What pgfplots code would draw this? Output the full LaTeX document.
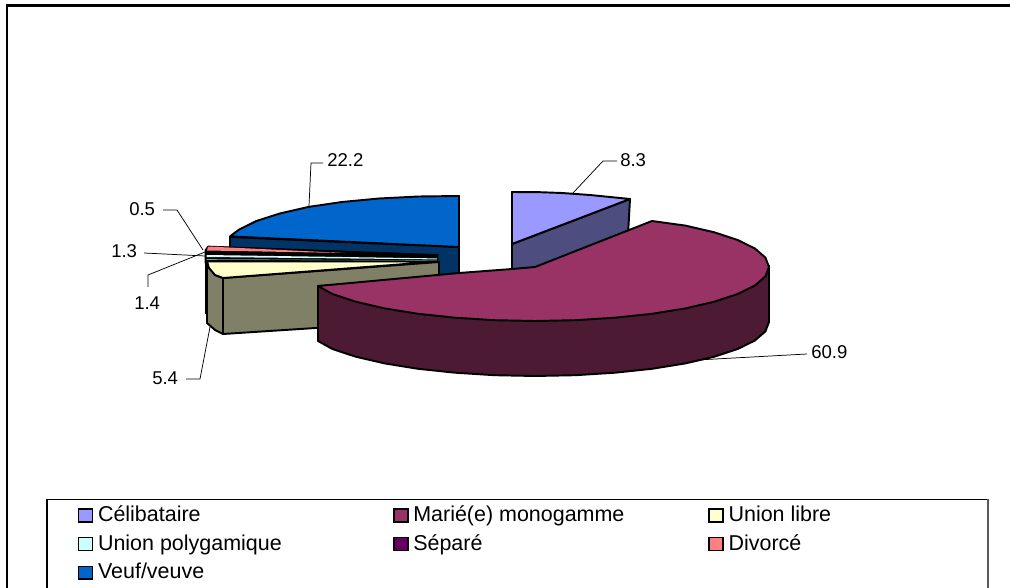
\documentclass[border=0pt]{standalone}
\usepackage{fontspec}
\setmainfont{Liberation Sans}
\usepackage{pgfplots}
\pgfplotsset{compat=1.18}
\definecolor{celib}{HTML}{9999FF}
\definecolor{celibS}{HTML}{4D4D80}
\definecolor{marie}{HTML}{993366}
\definecolor{marieS}{HTML}{4D1A33}
\definecolor{libre}{HTML}{FFFFCC}
\definecolor{libreS}{HTML}{808066}
\definecolor{poly}{HTML}{CCFFFF}
\definecolor{separe}{HTML}{660066}
\definecolor{divorce}{HTML}{FF8080}
\definecolor{veuf}{HTML}{0066CC}
\definecolor{veufS}{HTML}{003366}
\pgfplotsset{
  swatch/.style={legend image code/.code={\draw[fill=#1,draw=black,line width=1.1pt] (0pt,-4pt) rectangle (10.5pt,5.5pt);}},
  face/.style={fill=#1,draw=black,line width=1.45pt,line join=round,forget plot},
  leader/.style={draw=black,line width=0.55pt,forget plot},
}
\tikzset{lab/.style={font=\fontsize{13.9pt}{16pt}\selectfont,inner sep=0pt,anchor=west}}
\newcommand{\leg}[1]{\makebox[221.25pt][l]{#1}}
\begin{document}
\begin{tikzpicture}
\begin{axis}[
  name=ax,
  scale only axis, width=757.5pt, height=441pt,
  xmin=0,xmax=1010,ymin=0,ymax=588,y dir=reverse,
  hide axis, clip=true,
  legend columns=3,
  legend cell align=left,
  legend style={at={(axis cs:77.5,502)},anchor=north west,draw=none,fill=none,inner sep=0pt,
    font=\fontsize{16.1pt}{19pt}\selectfont,column sep=0pt,row sep=0pt,
    nodes={inner ysep=0pt,inner xsep=0pt,text height=14.4pt,text depth=7pt,anchor=west}},
]
% legend
\addlegendimage{swatch=celib}\addlegendentry{\hspace{3.6pt}\leg{Célibataire}}
\addlegendimage{swatch=marie}\addlegendentry{\hspace{3.6pt}\leg{Marié(e) monogamme}}
\addlegendimage{swatch=libre}\addlegendentry{\hspace{3.6pt}\leg{Union libre}}
\addlegendimage{swatch=poly}\addlegendentry{\hspace{3.6pt}\leg{Union polygamique}}
\addlegendimage{swatch=separe}\addlegendentry{\hspace{3.6pt}\leg{Séparé}}
\addlegendimage{swatch=divorce}\addlegendentry{\hspace{3.6pt}\leg{Divorcé}}
\addlegendimage{swatch=veuf}\addlegendentry{\hspace{3.6pt}\leg{Veuf/veuve}}
% frames
\addplot[draw=black,line width=1.6pt,forget plot] coordinates {(1010,5.5) (7,5.5) (7,588)};
\addplot[draw=black,line width=1pt,forget plot] coordinates {(47,588) (47,499.5) (988,499.5)};
\addplot[draw=black!65,line width=1.4pt,forget plot] coordinates {(988,499) (988,588)};
% Veuf/veuve 22.2
\addplot[face=veufS] coordinates {(230,237) (459,247) (459,280) (230,250)} -- cycle;
\addplot[face=veuf] coordinates {(230,236.4) (239,229.6) (256.4,221) (279.8,213.5) (308.6,206.9) (342,202) (379,198.5) (418.4,196.5) (459,196) (459,247)} -- cycle;
% Célibataire 8.3
\addplot[face=celibS] coordinates {(512,244) (630,199) (628,235) (535,272) (512,274)} -- cycle;
\addplot[face=celib] coordinates {(512,192) (540,192.2) (562,193) (590,195) (610,197) (630,199) (512,244)} -- cycle;
% thin slices
\addplot[fill=black,draw=black,line width=0.5pt,forget plot] coordinates {(205,250) (208,246) (438,254.5) (438,262) (205,263)} -- cycle;
\addplot[fill=divorce,draw=none,forget plot] coordinates {(207,250.5) (208,246.8) (210,246.6) (345,253) } -- cycle;
\addplot[fill=poly,draw=none,forget plot] coordinates {(206.5,255) (437,258.4) (437,259.4) (206.5,257)} -- cycle;
\addplot[draw=poly!60!black,line width=0.45pt,forget plot] coordinates {(206.5,259.5) (437,260.6)};
\addplot[draw=black,line width=1.5pt,forget plot] coordinates {(205.5,262) (205.5,314)};
% Union libre 5.4
\addplot[face=libreS] coordinates {(207,262) (215,275) (223,278) (223,334) (215,330) (207,323)} -- cycle;
\addplot[face=libreS] coordinates {(223,278) (439,262) (439,320) (223,334)} -- cycle;
\addplot[face=libre] coordinates {(207,261.5) (438,261.5) (223,278) (215,275) (209,268)} -- cycle;
% Marié(e) monogamme 60.9
\addplot[face=marieS] coordinates {(318,286) (318,341) (332.4,349) (355.7,356.7) (384.6,363.4) (418,368.8) (455,372.7) (494.4,375.2) (535,376) (575.6,375.2) (615,372.7) (652,368.8) (685.4,363.4) (714.3,356.7) (737.6,349) (754.9,340.5) (765.4,331.4) (769,322) (769,266)} -- cycle;
\addplot[face=marie] coordinates {(318,286) (459,273) (512,269) (535,267) (652,221) (685.4,225.6) (714.3,232.3) (737.6,240) (754.9,248.5) (765.4,257.6) (769,267) (765.4,276.4) (754.9,285.5) (737.6,294) (714.3,301.7) (685.4,308.4) (652,313.8) (615,317.7) (575.6,320.2) (535,321) (494.4,320.2) (455,317.7) (418,313.8) (384.6,308.4) (355.7,301.7) (332.4,294)} -- cycle;
% leader lines
\addplot[leader] coordinates {(573,193) (603,161) (617,161)};
\addplot[leader] coordinates {(309,206) (311,163) (323,163)};
\addplot[leader] coordinates {(163,210) (177,210) (203,250)};
\addplot[leader] coordinates {(144,253) (205,256)};
\addplot[leader] coordinates {(148,287) (148,275) (205,252)};
\addplot[leader] coordinates {(186,379) (200,379) (210,327)};
\addplot[leader] coordinates {(697,360) (807,354)};
% labels
\node[lab] at (axis cs:620,160) {8.3};
\node[lab] at (axis cs:327,160) {22.2};
\node[lab] at (axis cs:129,209) {0.5};
\node[lab] at (axis cs:111,251) {1.3};
\node[lab] at (axis cs:134,303) {1.4};
\node[lab] at (axis cs:152,378) {5.4};
\node[lab] at (axis cs:811,352) {60.9};
\end{axis}
\pgfresetboundingbox
\path[use as bounding box] (ax.south west) rectangle (ax.north east);
\end{tikzpicture}
\end{document}
